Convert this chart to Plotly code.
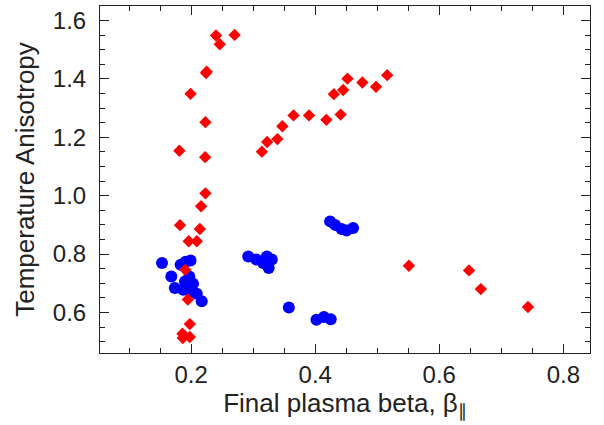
import plotly.graph_objects as go

# Red diamonds
red_x = [0.240, 0.246, 0.270, 0.225, 0.224, 0.199, 0.223, 0.181, 0.2225, 0.223, 0.216,
         0.182, 0.214, 0.196, 0.209, 0.1905, 0.1946, 0.1978, 0.186, 0.1865, 0.1978,
         0.314, 0.3225, 0.339, 0.347, 0.365, 0.390, 0.418, 0.441, 0.430, 0.445, 0.452,
         0.476, 0.498, 0.516,
         0.551, 0.648, 0.667, 0.743]
red_y = [1.549, 1.519, 1.551, 1.425, 1.420, 1.349, 1.252, 1.154, 1.132, 1.008, 0.964,
         0.899, 0.886, 0.844, 0.844, 0.746, 0.6445, 0.560, 0.527, 0.512, 0.516,
         1.151, 1.184, 1.194, 1.238, 1.275, 1.275, 1.260, 1.278, 1.348, 1.362, 1.401,
         1.388, 1.373, 1.413,
         0.760, 0.744, 0.680, 0.6185]

# Blue circles
blue_x = [0.153, 0.168, 0.183, 0.199, 0.1736, 0.190, 0.203, 0.187, 0.198, 0.209, 0.217, 0.197, 0.191,
          0.292, 0.305, 0.316, 0.322, 0.330, 0.325,
          0.3575,
          0.402, 0.414, 0.425,
          0.424, 0.432, 0.4425, 0.4506, 0.461]
blue_y = [0.769, 0.723, 0.763, 0.778, 0.684, 0.706, 0.698, 0.678, 0.672, 0.664, 0.638, 0.723, 0.774,
          0.792, 0.781, 0.769, 0.792, 0.781, 0.752,
          0.617,
          0.575, 0.584, 0.577,
          0.912, 0.900, 0.886, 0.881, 0.889]

x_ticks = [0.2, 0.4, 0.6, 0.8]
y_ticks = [0.6, 0.8, 1.0, 1.2, 1.4, 1.6]

fig = go.Figure()
fig.add_trace(go.Scatter(x=blue_x, y=blue_y, mode="markers",
                         marker=dict(symbol="circle", size=12, color="#0000ff", line=dict(width=0))))
fig.add_trace(go.Scatter(x=red_x, y=red_y, mode="markers",
                         marker=dict(symbol="diamond", size=9.5, color="#ff0000", line=dict(width=0))))

font = dict(family="Liberation Sans, Arial, sans-serif", color="#222222")
axis_common = dict(showline=True, linecolor="#222222", linewidth=1, mirror="ticks",
                   ticks="inside", ticklen=9, tickwidth=1, tickcolor="#222222",
                   showgrid=False, zeroline=False, tickfont=dict(size=24, **font))

fig.update_xaxes(range=[0.053, 0.843], tickvals=x_ticks, ticktext=[f"{v:.1f}" for v in x_ticks],
                 minor=dict(ticks="inside", ticklen=5, dtick=0.05, tick0=0, tickcolor="#222222", showgrid=False),
                 title=dict(text="Final plasma beta, β<sub>∥</sub>", font=dict(size=26, **font), standoff=4),
                 ticklabelstandoff=0, **axis_common)
fig.update_yaxes(range=[0.461, 1.650], tickvals=y_ticks, ticktext=[f"{v:.1f}" for v in y_ticks],
                 minor=dict(ticks="inside", ticklen=5, dtick=0.05, tick0=0, tickcolor="#222222", showgrid=False),
                 title=dict(text="Temperature Anisotropy", font=dict(size=26, **font), standoff=10),
                 ticklabelstandoff=8, **axis_common)

fig.update_layout(width=604, height=425, margin=dict(l=100, r=14, t=6, b=72),
                  paper_bgcolor="white", plot_bgcolor="white", showlegend=False)

fig.write_html("out.html")
